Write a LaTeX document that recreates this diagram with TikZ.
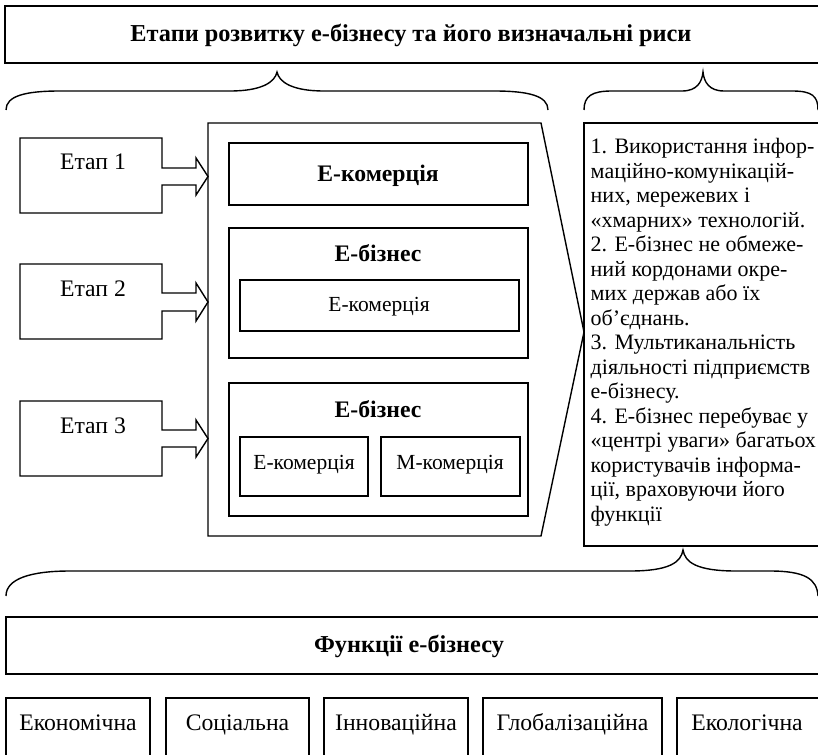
\documentclass[tikz,border=0pt]{standalone}
\usepackage{fontspec}
\setmainfont{Liberation Serif}
\begin{document}
\begin{tikzpicture}[x=1pt,y=-1pt,line width=1.4pt,line join=miter,
  txt/.style={font=\fontsize{23.7}{26}\selectfont,inner sep=0pt,anchor=base},
  stxt/.style={font=\fontsize{21.5}{24}\selectfont,inner sep=0pt,anchor=base},
  ftxt/.style={font=\fontsize{22}{24.5}\selectfont,inner sep=0pt},
  btxt/.style={font=\fontsize{23.7}{26}\selectfont\bfseries,inner sep=0pt,anchor=base},
  ttxt/.style={font=\fontsize{24.3}{26}\selectfont\bfseries,inner sep=0pt,anchor=base},
  brc/.style={line width=1.4pt}]
\useasboundingbox (0,0) rectangle (818,754);
\clip (0,0) rectangle (818,754);
% title
\draw (5,6) rectangle (830,63);
\node[ttxt] (title) at (411,42) {Етапи розвитку е-бізнесу та його визначальні риси};
% braces
\draw[brc] (6,110) .. controls (6,96) and (25,91) .. (60,91) -- (230,91) .. controls (262,91) and (275,82) .. (277,72) .. controls (279,82) and (292,91) .. (324,91) -- (494,91) .. controls (529,91) and (548,96) .. (548,110);
\draw[brc] (584,110) .. controls (584,96) and (592,91) .. (612,91) -- (682,91) .. controls (697,91) and (702,82) .. (703,72) .. controls (704,82) and (709,91) .. (724,91) -- (792,91) .. controls (812,91) and (818,96) .. (818,110);
% stages
\draw (20,138) -- (162,138) -- (162,168) -- (196,168) -- (196,158) -- (208,176.5) -- (196,195) -- (196,185) -- (162,185) -- (162,213) -- (20,213) -- cycle;
\node[txt] (s1) at (93,170) {Етап 1};
\draw (20,264) -- (162,264) -- (162,293) -- (196,293) -- (196,283) -- (208,302) -- (196,321) -- (196,311) -- (162,311) -- (162,339) -- (20,339) -- cycle;
\node[txt] (s2) at (93,296) {Етап 2};
\draw (20,401) -- (162,401) -- (162,430) -- (196,430) -- (196,420) -- (208,438.5) -- (196,457) -- (196,447) -- (162,447) -- (162,476) -- (20,476) -- cycle;
\node[txt] (s3) at (93,433) {Етап 3};
% big pentagon
\draw (208,123) -- (541,123) -- (584,332) -- (541,536) -- (208,536) -- cycle;
% inner boxes
\draw (229,143) rectangle (528,205);
\node[btxt] (ec1) at (378,181) {Е-комерція};
\draw (229,228) rectangle (528,358);
\node[btxt] (eb2) at (378,261) {Е-бізнес};
\draw (240,280) rectangle (519,331);
\node[stxt] (ec2) at (379,311) {Е-комерція};
\draw (229,383) rectangle (528,516);
\node[btxt] (eb3) at (378,417) {Е-бізнес};
\draw (240,437) rectangle (368,496);
\node[stxt] (ec3) at (304,469) {Е-комерція};
\draw (381,437) rectangle (520,496);
\node[stxt] (mc3) at (450,469) {М-комерція};
% right text box
\draw (584,123) rectangle (830,546);
\node[ftxt,anchor=north west,align=left] (feat) at (590,138) {1. Використання інфор-\\маційно-комунікацій-\\них, мережевих і\\«хмарних» технологій.\\2. Е-бізнес не обмеже-\\ний кордонами окре-\\мих держав або їх\\об’єднань.\\3. Мультиканальність\\діяльності підприємств\\е-бізнесу.\\4. Е-бізнес перебуває у\\«центрі уваги» багатьох\\користувачів інформа-\\ції, враховуючи його\\функції};
% bottom brace
\draw[brc] (6,596) .. controls (6,579) and (30,571) .. (70,571) -- (630,571) .. controls (670,571) and (681,562) .. (683,550) .. controls (685,562) and (696,571) .. (736,571) -- (770,571) .. controls (805,571) and (817,579) .. (818,596);
% functions
\draw (6,617) rectangle (830,674);
\node[ttxt] (fn) at (409,652) {Функції е-бізнесу};
\draw (6,698) rectangle (150,780);
\node[txt] (f1) at (78,730) {Економічна};
\draw (166,698) rectangle (309,780);
\node[txt] (f2) at (237.5,730) {Соціальна};
\draw (324,698) rectangle (468,780);
\node[txt] (f3) at (396,730) {Інноваційна};
\draw (483,698) rectangle (662,780);
\node[txt] (f4) at (572.5,730) {Глобалізаційна};
\draw (677,698) rectangle (830,780);
\node[txt] (f5) at (747,730) {Екологічна};
\end{tikzpicture}
\end{document}
